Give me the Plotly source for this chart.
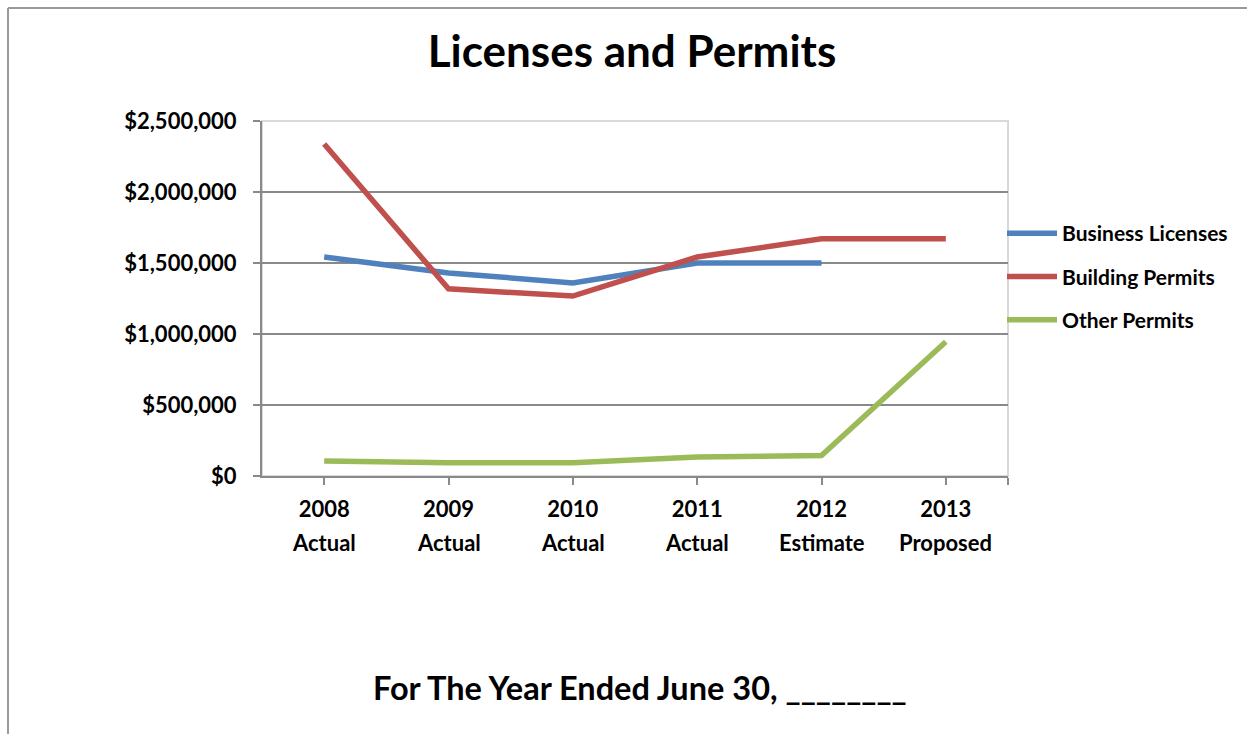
import plotly.graph_objects as go

# Fiscal years and their status labels
years = ["2008", "2009", "2010", "2011", "2012", "2013"]
status = ["Actual", "Actual", "Actual", "Actual", "Estimate", "Proposed"]

# Revenue by source (dollars); None where no figure exists
business_licenses = [1542000, 1430000, 1360000, 1500000, 1500000, None]
building_permits = [2338000, 1318000, 1267000, 1542000, 1670000, 1670000]
other_permits = [106000, 94000, 94000, 133000, 145000, 946000]

y_ticks = [0, 500000, 1000000, 1500000, 2000000, 2500000]

W, H = 1247, 734
L, R, T, B = 262, 1008, 121, 476  # plot area in pixels

FONT = "Lato"
GRID = "#898989"

x_pos = list(range(len(years)))

fig = go.Figure()
series = [
    ("Business Licenses", business_licenses, "#4F81BD"),
    ("Building Permits", building_permits, "#C0504D"),
    ("Other Permits", other_permits, "#9BBB59"),
]
for name, vals, color in series:
    fig.add_trace(go.Scatter(
        x=x_pos, y=vals, name=name, mode="lines",
        line=dict(color=color, width=5.5),
        legendgroup=name, connectgaps=False,
    ))


def px_x(p):
    return (p - L) / (R - L)


def px_y(p):
    return (B - p) / (B - T)


annotations = []
# second row of category labels
for i, s in enumerate(status):
    annotations.append(dict(
        x=i, xref="x", y=px_y(542), yref="paper", text=s, showarrow=False,
        xanchor="center", yanchor="middle",
        font=dict(family=FONT, size=22, color="black", weight="bold"),
    ))
annotations.append(dict(
    x=px_x(640), xref="paper", y=px_y(687), yref="paper",
    text="For The Year Ended June 30, ________", showarrow=False,
    xanchor="center", yanchor="middle",
    font=dict(family=FONT, size=32.5, color="black", weight="bold"),
))

shapes = [
    # light frame around the plot area (top / right)
    dict(type="rect", xref="paper", yref="paper", x0=0, x1=1, y0=0, y1=1,
         line=dict(color="#d9d9d9", width=2), layer="below"),
    # outer chart border
    dict(type="line", xref="paper", yref="paper",
         x0=px_x(8), x1=px_x(8), y0=px_y(8), y1=px_y(760),
         line=dict(color="#9a9a9a", width=2)),
    dict(type="line", xref="paper", yref="paper",
         x0=px_x(8), x1=px_x(1300), y0=px_y(8), y1=px_y(8),
         line=dict(color="#9a9a9a", width=2)),
]

fig.update_layout(
    width=W, height=H,
    margin=dict(l=L, r=W - R, t=T, b=H - B, pad=0),
    paper_bgcolor="white", plot_bgcolor="white",
    title=dict(
        text="Licenses and Permits", x=632 / W, xanchor="center",
        y=1 - 52 / H, yanchor="middle", xref="container", yref="container",
        font=dict(family=FONT, size=44, color="black", weight="bold"),
    ),
    xaxis=dict(
        range=[-0.5, len(years) - 0.5],
        tickvals=x_pos + [len(years) - 0.5],
        ticktext=years + [""],
        ticks="outside", ticklen=7, tickcolor=GRID, tickwidth=1.5,
        showline=True, linecolor=GRID, linewidth=2,
        showgrid=False, zeroline=False,
        tickfont=dict(family=FONT, size=22, color="black", weight="bold"),
        ticklabelstandoff=6,
    ),
    yaxis=dict(
        range=[0, 2500000], tickvals=y_ticks, tickformat="$,.0f",
        ticks="outside", ticklen=7, tickcolor=GRID, tickwidth=1.5,
        showline=True, linecolor=GRID, linewidth=2,
        showgrid=True, gridcolor=GRID, gridwidth=1.5, zeroline=False,
        tickfont=dict(family=FONT, size=22, color="black", weight="bold"),
        ticklabelstandoff=12,
    ),
    legend=dict(
        x=px_x(1002), xanchor="left", y=px_y(213), yanchor="top",
        font=dict(family=FONT, size=21, color="black", weight="bold"),
        tracegroupgap=13, itemwidth=50, bgcolor="rgba(0,0,0,0)",
    ),
    showlegend=True,
    annotations=annotations,
    shapes=shapes,
)

fig.write_html("out.html")
